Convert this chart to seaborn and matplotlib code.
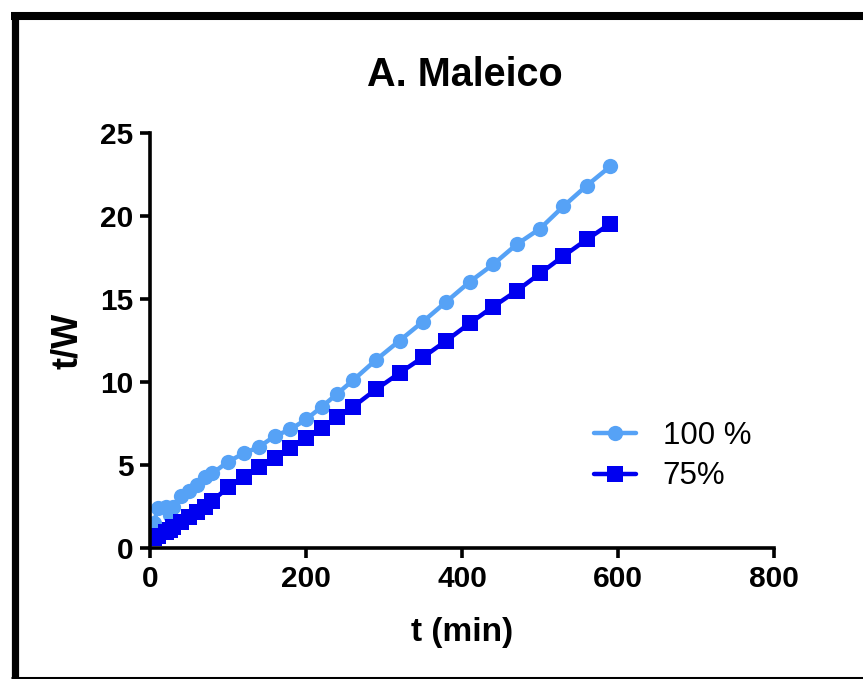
import numpy as np
import matplotlib
matplotlib.use('Agg')
import matplotlib.pyplot as plt
import pandas as pd
import seaborn as sns

# data
t_min = [5, 10, 20, 25, 30, 40, 50, 60, 70, 80, 100, 120, 140, 160, 180, 200,
         220, 240, 260, 290, 320, 350, 380, 410, 440, 470, 500, 530, 560, 590]
tw_100 = [1.5, 2.4, 2.45, 2.0, 2.5, 3.15, 3.45, 3.8, 4.3, 4.5, 5.2, 5.7, 6.1, 6.75, 7.15,
          7.75, 8.5, 9.3, 10.1, 11.35, 12.5, 13.65, 14.85, 16.05, 17.1, 18.3, 19.25,
          20.6, 21.85, 23.0]
tw_75 = [0.6, 0.75, 0.95, 1.1, 1.25, 1.55, 1.85, 2.15, 2.45, 2.85, 3.65, 4.3, 4.9, 5.4,
         6.0, 6.65, 7.22, 7.9, 8.5, 9.57, 10.55, 11.5, 12.5, 13.55, 14.55, 15.5, 16.55,
         17.6, 18.6, 19.55]
series_labels = ['100 %', '75%']
series_colors = ['#56a2f6', '#0000f0']

df = pd.DataFrame({'t': t_min * 2,
                   'tw': tw_100 + tw_75,
                   'serie': [series_labels[0]] * len(t_min) + [series_labels[1]] * len(t_min)})

sns.set_style('ticks')
plt.rcParams['font.family'] = ['Liberation Sans', 'DejaVu Sans']
plt.rcParams['text.color'] = 'black'
plt.rcParams['axes.labelcolor'] = 'black'
plt.rcParams['xtick.color'] = 'black'
plt.rcParams['ytick.color'] = 'black'

W, H = 863, 679
fig = plt.figure(figsize=(W / 100, H / 100), dpi=100)
ax = fig.add_axes([150 / W, 1 - 548 / H, 624 / W, (548 - 133.3) / H])

sns.lineplot(data=df, x='t', y='tw', hue='serie', style='serie',
             palette=series_colors, markers=['o', 's'], dashes=False,
             linewidth=3.2, markersize=11, markeredgewidth=0, ax=ax, legend=False)

ax.set_xlim(0, 800)
ax.set_ylim(0, 25)
ax.set_xticks([0, 200, 400, 600, 800])
ax.set_yticks([0, 5, 10, 15, 20, 25])
ax.set_xlabel('')
ax.set_ylabel('')
for s in ['top', 'right']:
    ax.spines[s].set_visible(False)
for s in ['left', 'bottom']:
    ax.spines[s].set_linewidth(2.6)
    ax.spines[s].set_color('black')
ax.tick_params(width=2.6, length=7, color='black', labelcolor='black', labelsize=21.5, pad=5)
for lab in ax.get_xticklabels() + ax.get_yticklabels():
    lab.set_fontweight('bold')
ax.patch.set_alpha(0)

# legend
handles = [plt.Line2D([], [], color=c, lw=3.2, marker=m, markersize=11, markeredgewidth=0)
           for c, m in zip(series_colors, ['o', 's'])]
ax.legend(handles, series_labels, loc='center left', frameon=False,
          bbox_to_anchor=(594 / W, 1 - 456 / H), bbox_transform=fig.transFigure,
          fontsize=22.5, handlelength=1.35, handletextpad=0.85, labelspacing=0.35,
          borderpad=0, borderaxespad=0)

fig.text(465 / W, 1 - 86 / H, 'A. Maleico', ha='center', va='baseline',
         fontsize=28.5, fontweight='bold', color='black')
fig.text(462 / W, 1 - 633 / H, 't (min)', ha='center', va='center',
         fontsize=24, fontweight='bold', color='black')
fig.text(67 / W, 1 - 341 / H, 't/W', ha='center', va='center', rotation=90,
         fontsize=26, fontweight='bold', color='black')

# outer frame
fig.add_artist(plt.Line2D([14.5 / W, 14.5 / W], [1 - 12 / H, 0], color='black', lw=5.2,
                          transform=fig.transFigure, solid_capstyle='butt'))
fig.add_artist(plt.Line2D([11 / W, 1], [1 - 16 / H, 1 - 16 / H], color='black', lw=5.8,
                          transform=fig.transFigure, solid_capstyle='butt'))
fig.add_artist(plt.Line2D([11 / W, 1], [1 - 678 / H, 1 - 678 / H], color='black', lw=2.2,
                          transform=fig.transFigure, solid_capstyle='butt'))

fig.savefig('out.png', dpi=100, facecolor='white')
